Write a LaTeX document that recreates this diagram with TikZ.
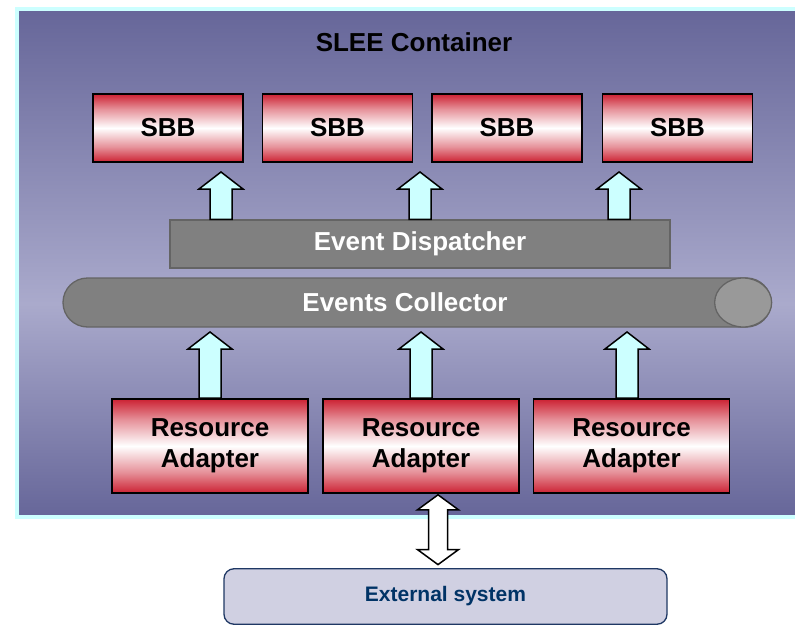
\documentclass[tikz,border=0pt]{standalone}
\usepackage{fontspec}
\setmainfont{Liberation Sans}
\usetikzlibrary{calc}
\definecolor{boxred}{RGB}{204,34,51}
\definecolor{cdark}{RGB}{102,102,153}
\definecolor{clight}{RGB}{170,170,204}
\definecolor{cyanb}{RGB}{204,255,255}
\definecolor{dispgray}{RGB}{128,128,128}
\definecolor{graybd}{RGB}{100,100,100}
\definecolor{capgray}{RGB}{153,153,153}
\definecolor{extfill}{RGB}{208,208,226}
\definecolor{extblue}{RGB}{0,51,102}
\definecolor{extbd}{RGB}{31,56,100}
\pgfdeclareverticalshading{redwhite}{100bp}{color(0bp)=(boxred); color(25bp)=(boxred); color(36bp)=(boxred!50!white); color(50bp)=(white); color(64bp)=(boxred!50!white); color(75bp)=(boxred); color(100bp)=(boxred)}
\pgfdeclareverticalshading{contshade}{100bp}{color(0bp)=(cdark); color(25bp)=(cdark); color(46bp)=(clight); color(75bp)=(cdark); color(100bp)=(cdark)}
\tikzset{
  bigfont/.style={font=\bfseries\fontsize{26}{31}\selectfont},
  redbox/.style={draw=black, line width=1.6pt, shade, shading=redwhite, bigfont, align=center, inner sep=0pt},
  sbbbox/.style={redbox, minimum width=150pt, minimum height=68pt},
  rabox/.style={redbox, minimum width=196pt, minimum height=94pt},
  container/.style={draw=cyanb, line width=4pt, shade, shading=contshade, minimum width=782pt, minimum height=508pt, inner sep=0pt},
  graybar/.style={fill=dispgray, draw=graybd, line width=1.3pt, text=white, bigfont, inner sep=0pt},
  capstyle/.style={fill=capgray, draw=graybd, line width=1.3pt},
  extbox/.style={fill=extfill, draw=extbd, line width=1.3pt, rounded corners=10pt, text=extblue, font=\bfseries\fontsize{21}{25}\selectfont, minimum width=443pt, minimum height=55.5pt, inner sep=0pt},
  blkarrow/.style={fill=cyanb, draw=black, line width=1.5pt, line join=miter},
  dblarrow/.style={fill=white, draw=black, line width=1.5pt, line join=miter}
}
\newcommand{\blkup}[2]{\draw[blkarrow] let \p1=(#1), \p2=(#2) in (\x1-11pt,\y1) -- (\x1-11pt,\y2-17pt) -- (\x1-22pt,\y2-17pt) -- (\x1,\y2) -- (\x1+22pt,\y2-17pt) -- (\x1+11pt,\y2-17pt) -- (\x1+11pt,\y1) -- cycle;}
\begin{document}
\begin{tikzpicture}[x=1pt,y=-1pt]
\useasboundingbox (0,0) rectangle (795,626);
% container (right border lies beyond the picture's edge)
\begin{scope}
\clip (0,0) rectangle (795,626);
\node[container] (slee) at (408,263) {};
\end{scope}
\node[bigfont, anchor=base] (title) at (414,52) {SLEE Container};
% SBBs
\node[sbbbox] (s1) at (168,128) {SBB};
\node[sbbbox] (s2) at (337.5,128) {SBB};
\node[sbbbox] (s3) at (507,128) {SBB};
\node[sbbbox] (s4) at (677.5,128) {SBB};
% dispatcher and collector
\node[graybar, minimum width=500pt, minimum height=48pt] (disp) at (420,244) {Event Dispatcher};
\node[graybar, minimum width=708pt, minimum height=49pt, rounded corners=24.5pt] (coll) at (417,302.5) {Events Collector\hspace*{24pt}};
\draw[capstyle] ($(coll.east)+(-28.5,0)$) ellipse [x radius=28.5pt, y radius=24.5pt];
% resource adapters
\node[rabox] (r1) at (210,446) {Resource\\Adapter};
\node[rabox] (r2) at (421,446) {Resource\\Adapter};
\node[rabox] (r3) at (631.5,446) {Resource\\Adapter};
% external system
\node[extbox] (ext) at (445.5,596.5) {External system};
% upper arrows
\coordinate (t1) at (221,172);
\coordinate (t2) at (420,172);
\coordinate (t3) at (619,172);
\blkup{t1 |- disp.north}{t1}
\blkup{t2 |- disp.north}{t2}
\blkup{t3 |- disp.north}{t3}
% lower arrows
\coordinate (u1) at (210,332);
\coordinate (u2) at (421,332);
\coordinate (u3) at (627,332);
\blkup{u1 |- r1.north}{u1}
\blkup{u2 |- r2.north}{u2}
\blkup{u3 |- r3.north}{u3}
% double arrow
\coordinate (dtop) at ($(r2.south)+(17,1)$);
\coordinate (dbot) at ($(dtop |- ext.north)+(0,-3.5)$);
\draw[dblarrow] let \p1=(dbot), \p2=(dtop) in (\x1,\y1) -- (\x1+20.5pt,\y1+15pt) -- (\x1+9.5pt,\y1+15pt) -- (\x1+9.5pt,\y2-15pt) -- (\x1+20.5pt,\y2-15pt) -- (\x2,\y2) -- (\x1-20.5pt,\y2-15pt) -- (\x1-9.5pt,\y2-15pt) -- (\x1-9.5pt,\y1+15pt) -- (\x1-20.5pt,\y1+15pt) -- cycle;
\end{tikzpicture}
\end{document}
